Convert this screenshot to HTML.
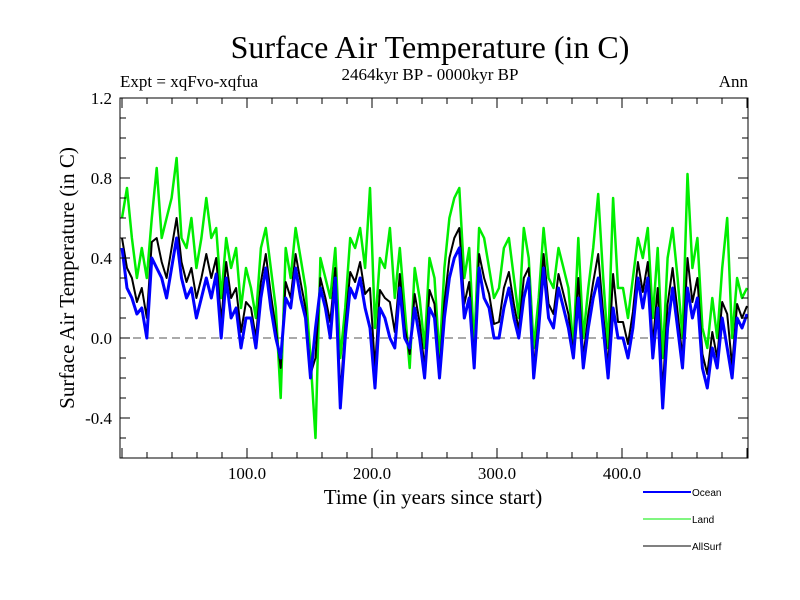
<!DOCTYPE html>
<html><head><meta charset="utf-8"><style>
body{margin:0;background:#fff;}
svg{display:block;font-family:"Liberation Serif",serif;}
</style></head><body>
<svg id="chart" width="800" height="600" xmlns="http://www.w3.org/2000/svg">
<rect width="800" height="600" fill="#fff"/>
<text x="430" y="58" font-size="32" text-anchor="middle">Surface Air Temperature (in C)</text>
<text x="430" y="80" font-size="17" text-anchor="middle">2464kyr BP - 0000kyr BP</text>
<text x="120" y="87" font-size="17">Expt = xqFvo-xqfua</text>
<text x="748" y="87" font-size="17" text-anchor="end">Ann</text>
<text transform="translate(74,278) rotate(-90)" font-size="21" text-anchor="middle">Surface Air Temperature (in C)</text>
<text x="433" y="504" font-size="21" text-anchor="middle">Time (in years since start)</text>
<g id="plot"></g>
<g id="axes"></g>
<g>
<line x1="643" y1="492" x2="691" y2="492" stroke="#0000ff" stroke-width="2"/>
<text x="692" y="496" font-size="10" font-family="Liberation Sans, sans-serif">Ocean</text>
<line x1="643" y1="519" x2="691" y2="519" stroke="#00ee00" stroke-width="1"/>
<text x="692" y="523" font-size="10" font-family="Liberation Sans, sans-serif">Land</text>
<line x1="643" y1="546" x2="691" y2="546" stroke="#000" stroke-width="1"/>
<text x="692" y="550" font-size="10" font-family="Liberation Sans, sans-serif">AllSurf</text>
</g>
</svg>
<script>
const yTicks=[1.2,0.8,0.4,0.0,-0.4];
const yTickLabels=["1.2","0.8","0.4","0.0","-0.4"];
const xTicks=[100,200,300,400];
const xTickLabels=["100.0","200.0","300.0","400.0"];
const ocean=[0.45,0.25,0.2,0.12,0.15,0.0,0.4,0.35,0.3,0.2,0.35,0.5,0.3,0.2,0.25,0.1,0.2,0.3,0.2,0.32,0.0,0.3,0.1,0.15,-0.05,0.1,
0.1,-0.05,0.2,0.35,0.15,0.0,-0.1,0.2,0.15,0.35,0.2,0.1,-0.2,0.05,0.25,0.15,0.0,0.3,-0.35,0.0,0.25,0.2,0.3,0.15,0.05,
-0.25,0.15,0.1,0.0,-0.05,0.25,0.0,-0.05,0.15,0.0,-0.2,0.15,0.1,-0.2,0.1,0.3,0.4,0.45,0.1,0.2,-0.15,0.35,0.2,0.15,0.0,
0.0,0.15,0.25,0.1,0.0,0.2,0.3,-0.2,0.05,0.35,0.1,0.05,0.25,0.15,0.05,-0.1,0.2,-0.15,0.05,0.2,0.3,0.05,-0.2,0.15,0.0,
0.0,-0.1,0.05,0.3,0.15,0.3,-0.1,0.15,-0.35,0.05,0.25,0.05,-0.15,0.25,0.1,0.2,-0.15,-0.25,-0.05,-0.15,0.1,-0.05,-0.2,0.1,0.05,0.12];
const land=[0.6,0.75,0.5,0.3,0.45,0.3,0.6,0.85,0.5,0.6,0.7,0.9,0.5,0.45,0.6,0.35,0.5,0.7,0.5,0.55,0.2,0.5,0.35,0.45,0.15,0.35,
0.25,0.1,0.45,0.55,0.35,0.15,-0.3,0.45,0.3,0.55,0.4,0.25,-0.1,-0.5,0.4,0.3,0.2,0.45,-0.1,0.15,0.5,0.45,0.55,0.35,0.75,
0.05,0.4,0.35,0.55,0.2,0.45,0.15,-0.15,0.35,0.2,-0.05,0.4,0.3,-0.1,0.35,0.6,0.7,0.75,0.3,0.45,-0.05,0.55,0.5,0.35,0.2,
0.25,0.45,0.5,0.3,0.1,0.55,0.4,-0.05,0.2,0.55,0.3,0.25,0.45,0.35,0.25,-0.05,0.5,0.0,0.25,0.45,0.72,0.3,-0.05,0.7,0.25,
0.25,0.1,0.3,0.5,0.4,0.55,0.1,0.45,-0.1,0.4,0.55,0.3,0.0,0.82,0.35,0.5,0.05,-0.05,0.2,0.0,0.35,0.6,0.0,0.3,0.2,0.25];
const allsurf=[0.5,0.35,0.3,0.18,0.25,0.1,0.48,0.5,0.38,0.3,0.45,0.6,0.38,0.28,0.35,0.2,0.3,0.42,0.3,0.4,0.08,0.38,0.2,0.25,0.03,0.18,
0.15,0.0,0.28,0.42,0.22,0.05,-0.15,0.28,0.2,0.42,0.28,0.15,-0.18,-0.1,0.3,0.2,0.08,0.35,-0.28,0.05,0.33,0.28,0.38,0.22,0.25,
-0.15,0.24,0.2,0.18,0.03,0.32,0.05,-0.08,0.22,0.08,-0.15,0.24,0.17,-0.17,0.18,0.4,0.5,0.55,0.17,0.28,-0.12,0.42,0.3,0.22,0.07,
0.08,0.25,0.33,0.17,0.04,0.3,0.35,-0.15,0.1,0.42,0.17,0.12,0.32,0.22,0.12,-0.08,0.3,-0.1,0.12,0.28,0.42,0.12,-0.15,0.32,0.08,
0.08,-0.03,0.13,0.38,0.23,0.38,-0.03,0.25,-0.27,0.17,0.35,0.13,-0.1,0.4,0.18,0.3,-0.08,-0.18,0.03,-0.1,0.18,0.12,-0.14,0.17,0.1,0.16];

const NS="http://www.w3.org/2000/svg";
const L=120,R=748,T=98,B=458;
function xs(v){return 122+v*1.25;}
function ys(v){return 338-v*200;}
function mk(tag,attrs,parent){const e=document.createElementNS(NS,tag);for(const k in attrs)e.setAttribute(k,attrs[k]);parent.appendChild(e);return e;}
const plot=document.getElementById('plot'),axes=document.getElementById('axes');
const zl=mk('line',{x1:L,x2:R,y1:ys(0),y2:ys(0),stroke:'#555','stroke-width':1,'stroke-dasharray':'8,5'},plot);


function series(arr,color,w,name){
  const step=500/(arr.length-1);
  const pts=arr.map((v,i)=>xs(i*step).toFixed(1)+','+ys(v).toFixed(1)).join(' ');
  const p=mk('polyline',{points:pts,fill:'none',stroke:color,'stroke-width':w,'stroke-linejoin':'round'},plot);
  
  
}
series(land,'#00ee00',2.5,'land-series');
series(allsurf,'#000000',2,'allsurf-series');
series(ocean,'#0000ff',3,'ocean-series');
const fr=mk('rect',{x:L,y:T,width:R-L,height:B-T,fill:'none',stroke:'#000','stroke-width':1},axes);


for(let v=-0.6;v<=1.2001;v+=0.1){
  const y=ys(v);const major=Math.abs(Math.round(v*10)%4)===0;const len=major?10:6;
  mk('line',{x1:L,x2:L+len,y1:y,y2:y,stroke:'#000'},axes);
  mk('line',{x1:R,x2:R-len,y1:y,y2:y,stroke:'#000'},axes);
}
for(let v=0;v<=500;v+=20){
  const x=xs(v);const len=(v%100===0)?10:6;
  mk('line',{x1:x,x2:x,y1:B,y2:B-len,stroke:'#000'},axes);
  mk('line',{x1:x,x2:x,y1:T,y2:T+len,stroke:'#000'},axes);
}
yTicks.forEach((v,i)=>{
  const t=mk('text',{x:112,y:ys(v)+6,'font-size':17,'text-anchor':'end'},axes);
  t.textContent=yTickLabels[i];
  
  
});
xTicks.forEach((v,i)=>{
  const t=mk('text',{x:xs(v),y:479,'font-size':17,'text-anchor':'middle'},axes);
  t.textContent=xTickLabels[i];
  
  
});
</script>
</body></html>
